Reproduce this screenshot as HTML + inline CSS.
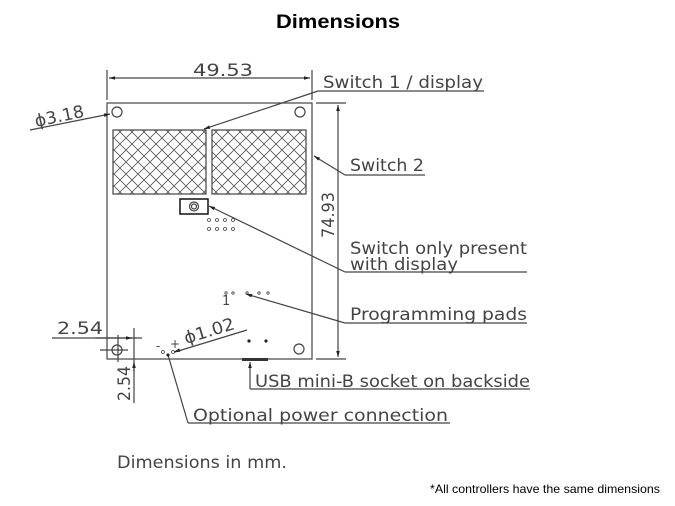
<!DOCTYPE html>
<html><head><meta charset="utf-8"><style>
body{margin:0;background:#fff;width:675px;height:506px;overflow:hidden}
svg{display:block}
</style></head><body>
<svg width="675" height="506" viewBox="0 0 675 506" xmlns="http://www.w3.org/2000/svg">
<defs>
<pattern id="h" width="12" height="12" patternUnits="userSpaceOnUse">
<path d="M0 0L12 12M12 0L0 12" stroke="#555" stroke-width="0.8"/>
</pattern>
<marker id="a" viewBox="0 0 10 10" refX="10" refY="5" markerWidth="7" markerHeight="5" orient="auto-start-reverse"><path d="M0 2L10 5L0 8z" fill="#222"/></marker>
</defs>
<text x="338" y="28" text-anchor="middle" font-family="Liberation Sans, sans-serif" font-weight="bold" font-size="19" textLength="124" lengthAdjust="spacingAndGlyphs">Dimensions</text>
<g fill="none" stroke="#444" stroke-width="1.2">
<rect x="107" y="103" width="205" height="256"/>
<line x1="107" y1="70" x2="107" y2="100"/><line x1="312" y1="70" x2="312" y2="100"/>
<line x1="109" y1="78" x2="310" y2="78" marker-start="url(#a)" marker-end="url(#a)"/>
<line x1="316" y1="103" x2="346" y2="103"/><line x1="316" y1="359" x2="346" y2="359"/>
<line x1="338" y1="105" x2="338" y2="357" marker-start="url(#a)" marker-end="url(#a)"/>
<circle cx="117" cy="112" r="5"/><circle cx="300" cy="112" r="5"/><circle cx="299" cy="349" r="5"/>
<rect x="113" y="130" width="93" height="64" fill="url(#h)"/>
<rect x="212" y="130" width="94" height="64" fill="url(#h)"/>
<rect x="180" y="199" width="28" height="15" stroke="#111" stroke-width="1.5"/>
<circle cx="194" cy="206.5" r="4.5"/><circle cx="194" cy="206.5" r="2.5"/>
<g stroke-width="0.8"><circle cx="209" cy="220" r="1.5"/><circle cx="217" cy="220" r="1.5"/><circle cx="225" cy="220" r="1.5"/><circle cx="233" cy="220" r="1.5"/>
<circle cx="209" cy="229" r="1.5"/><circle cx="217" cy="229" r="1.5"/><circle cx="225" cy="229" r="1.5"/><circle cx="233" cy="229" r="1.5"/>
<circle cx="226" cy="293" r="1.2"/><circle cx="233" cy="293" r="1.2"/><circle cx="247" cy="293" r="1.2"/><circle cx="259" cy="293" r="1.2"/><circle cx="268" cy="293" r="1.2"/>
<circle cx="163" cy="352" r="1.5"/><circle cx="173" cy="352" r="1.5"/></g>
<circle cx="117" cy="350" r="5"/>
<line x1="52" y1="338" x2="142" y2="338"/>
<line x1="118" y1="335" x2="118" y2="362"/><line x1="100" y1="350" x2="128" y2="350"/>
<line x1="134" y1="328" x2="134" y2="403"/>
<line x1="95" y1="338" x2="132" y2="338" marker-end="url(#a)"/>
<line x1="134" y1="372" x2="134" y2="362" marker-end="url(#a)"/>
<line x1="30" y1="130" x2="110" y2="114" marker-end="url(#a)"/>
<line x1="175" y1="352" x2="247" y2="330"/>
<line x1="180" y1="350" x2="174" y2="352" marker-end="url(#a)"/>
<line x1="318" y1="91" x2="204" y2="129" marker-end="url(#a)"/>
<line x1="318" y1="91" x2="484" y2="91"/>
<line x1="345" y1="175" x2="314" y2="156" marker-end="url(#a)"/>
<line x1="345" y1="175" x2="425" y2="175"/>
<line x1="345" y1="272" x2="209" y2="206" marker-end="url(#a)"/>
<line x1="345" y1="272" x2="527" y2="272"/>
<line x1="345" y1="323" x2="246" y2="294" marker-end="url(#a)"/>
<line x1="345" y1="323" x2="527" y2="323"/>
<line x1="250" y1="389" x2="250" y2="362" marker-end="url(#a)"/>
<line x1="250" y1="389" x2="530" y2="389"/>
<line x1="188" y1="423" x2="168" y2="355"/>
<line x1="188" y1="423" x2="450" y2="423"/>
</g>
<rect x="242" y="358" width="26" height="3" fill="#333"/>
<circle cx="249" cy="341" r="1.6" fill="#222"/><circle cx="266" cy="341" r="1.6" fill="#222"/>
<circle cx="168" cy="355" r="1.6" fill="#222"/>
<g font-family="DejaVu Sans, sans-serif" font-size="17" fill="#444">
<text x="193" y="76" textLength="60" lengthAdjust="spacingAndGlyphs">49.53</text>
<text x="36" y="127" transform="rotate(-12 36 127)" textLength="50" lengthAdjust="spacingAndGlyphs">ϕ3.18</text>
<text x="323" y="88" textLength="160" lengthAdjust="spacingAndGlyphs">Switch 1 / display</text>
<text x="350" y="171" textLength="74" lengthAdjust="spacingAndGlyphs">Switch 2</text>
<text x="350" y="254" textLength="177" lengthAdjust="spacingAndGlyphs">Switch only present</text>
<text x="350" y="270" textLength="108" lengthAdjust="spacingAndGlyphs">with display</text>
<text x="350" y="320" textLength="177" lengthAdjust="spacingAndGlyphs">Programming pads</text>
<text x="255" y="387" textLength="275" lengthAdjust="spacingAndGlyphs">USB mini-B socket on backside</text>
<text x="193" y="421" textLength="255" lengthAdjust="spacingAndGlyphs">Optional power connection</text>
<text x="57" y="334" textLength="46" lengthAdjust="spacingAndGlyphs">2.54</text>
<text x="130" y="401" transform="rotate(-90 130 401)" textLength="35" lengthAdjust="spacingAndGlyphs">2.54</text>
<text x="334" y="238" transform="rotate(-90 334 238)" textLength="46" lengthAdjust="spacingAndGlyphs">74.93</text>
<text x="186" y="344" transform="rotate(-17 186 344)" textLength="52" lengthAdjust="spacingAndGlyphs">ϕ1.02</text>
<text x="222" y="305" font-size="13">1</text>
<text x="156" y="350" font-size="12">-</text><text x="170" y="348" font-size="12">+</text>
<text x="117" y="468" textLength="170" lengthAdjust="spacingAndGlyphs">Dimensions in mm.</text>
</g>
<text x="660" y="493" text-anchor="end" font-family="Liberation Sans, sans-serif" font-size="12" textLength="230" lengthAdjust="spacingAndGlyphs">*All controllers have the same dimensions</text>
</svg>
</body></html>
